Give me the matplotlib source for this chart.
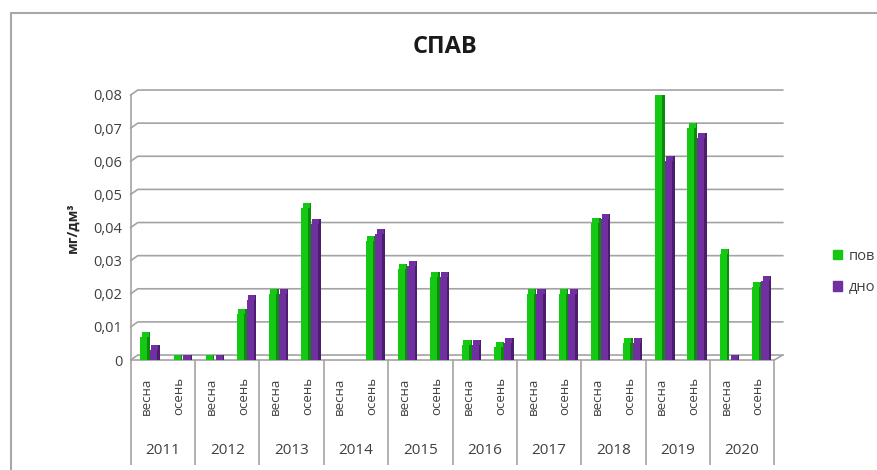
import matplotlib.pyplot as plt
import matplotlib.transforms as mtransforms
from matplotlib.patches import Rectangle
import numpy as np

plt.rcParams['font.family'] = ['Open Sans', 'DejaVu Sans']

years = ["2011", "2012", "2013", "2014", "2015", "2016", "2017", "2018", "2019", "2020"]
seasons = ["весна", "осень"]
pov = [0.007, 0.0, 0.0, 0.014, 0.02, 0.046, np.nan, 0.036, 0.0275, 0.025,
       0.0045, 0.004, 0.02, 0.02, 0.0415, 0.005, 0.08, 0.07, 0.032, 0.022]
dno = [0.003, 0.0, 0.0, 0.018, 0.02, 0.041, np.nan, 0.038, 0.0285, 0.025,
       0.0045, 0.005, 0.02, 0.02, 0.0425, 0.005, 0.06, 0.067, 0.0, 0.024]
yticks = [0, 0.01, 0.02, 0.03, 0.04, 0.05, 0.06, 0.07, 0.08]

green, green_dark = "#14C814", "#0B8A0B"
purple, purple_dark = "#7030A0", "#4A1D6E"
grid_col = "#A3A3A3"
text_col = "#404040"

fig = plt.figure(figsize=(8.77, 4.70), dpi=100)
ax = fig.add_axes([130.7 / 877, 110 / 470, 643.6 / 877, 265 / 470])

n = len(pov)
x = np.arange(n)
dx = 0.22      # depth offset (slots)
dy = 0.0015    # depth offset (data units)
fw = 0.22      # front face width
sw = 0.08      # side face width

# back wall gridlines with little diagonals to the front edge
for v in yticks:
    ax.plot([-0.5, -0.5 + dx, 19.5 + dx * 1.2], [v, v + dy, v + dy],
            color=grid_col, lw=1.2, zorder=1, clip_on=False)
ax.plot([19.5, 19.5 + dx * 1.2], [0, dy], color=grid_col, lw=1.2, clip_on=False)


def draw_bars(xc, vals, col, dark):
    vals = np.array(vals, dtype=float)
    ax.bar(xc, vals, width=fw, color=col, zorder=3)
    ax.bar(xc + fw / 2 + sw / 2, vals + dy, width=sw, color=dark, zorder=3)
    # top face
    ax.bar(xc + sw / 2, np.where(np.isnan(vals), np.nan, dy), bottom=vals,
           width=fw, color=col, zorder=3)


draw_bars(x - 0.09, pov, green, green_dark)
draw_bars(x + 0.21, dno, purple, purple_dark)

ax.set_xlim(-0.5, n - 0.5)
ax.set_ylim(0, 0.08)
ax.set_yticks(yticks)
ax.set_yticklabels([("%.2f" % v).replace(".", ",") if v else "0" for v in yticks],
                   fontsize=10.5, color=text_col)
ax.tick_params(axis="y", length=0, pad=6)
ax.set_xticks([])
for s in ["top", "right"]:
    ax.spines[s].set_visible(False)
for s in ["left", "bottom"]:
    ax.spines[s].set_color(grid_col)
    ax.spines[s].set_linewidth(1.2)

# category axis: seasons and years
trans = mtransforms.blended_transform_factory(ax.transData, ax.transAxes)
for i in range(n):
    ax.text(x[i], -0.065, seasons[i % 2], rotation=90, ha="center", va="top",
            fontsize=9.5, color=text_col, transform=trans)
for k, yr in enumerate(years):
    ax.text(2 * k + 0.5, -0.34, yr, ha="center", va="center",
            fontsize=11, color=text_col, transform=trans)
ax.vlines(np.arange(-0.5, n, 2), -0.396, 0, colors=grid_col, lw=1.2,
          transform=trans, clip_on=False)

ax.set_ylabel("мг/дм³", fontsize=10, fontweight="bold", color="#262626", labelpad=10)

fig.text(445 / 877, 1 - 47 / 470, "СПАВ", ha="center", va="center",
         fontsize=17, fontweight="bold", color="#1a1a1a")

# legend
h1 = Rectangle((0, 0), 1, 1, color=green)
h2 = Rectangle((0, 0), 1, 1, color=purple)
fig.legend([h1, h2], ["пов", "дно"], loc="center left",
           bbox_to_anchor=(820 / 877, 1 - 272 / 470), frameon=False,
           fontsize=10.5, handlelength=0.6, handleheight=0.6, handletextpad=0.5,
           labelspacing=1.1, labelcolor=text_col)

# outer chart frame
fig.patches.append(Rectangle((11 / 877, -0.1), 1.2, 1.1 - 13 / 470,
                             transform=fig.transFigure, fill=False,
                             edgecolor="#A8A8A8", lw=1.5))

fig.savefig("out.png", dpi=100)
